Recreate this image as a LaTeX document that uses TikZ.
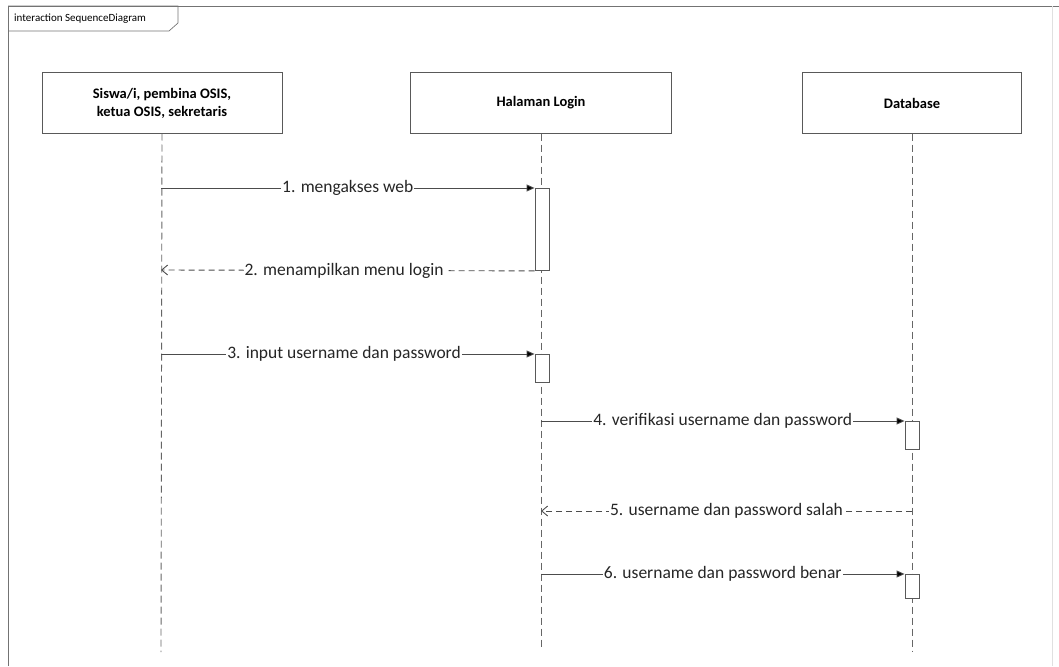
\documentclass[tikz,border=0pt]{standalone}
\usepackage{fontspec}
\setmainfont{Carlito}
\usetikzlibrary{arrows.meta}
\begin{document}
\begin{tikzpicture}[x=1pt,y=-1pt,
  frameline/.style={draw=black!55,line width=0.9pt},
  head/.style={draw=black!65,line width=1pt,fill=white,minimum height=60pt,align=center,font=\fontsize{14.5}{18}\selectfont\bfseries},
  lifeline/.style={draw=black!60,line width=0.9pt,dash pattern=on 7pt off 4pt},
  actbar/.style={draw=black!65,line width=0.9pt,fill=white,minimum width=14pt,inner sep=0pt,anchor=north},
  syncmsg/.style={draw=black!70,line width=0.9pt,-{Triangle[length=8pt,width=7pt,fill=black]}},
  retmsg/.style={draw=black!70,line width=0.9pt,dash pattern=on 6pt off 4pt,-{Straight Barb[length=6pt,width=10pt]}},
  msglabel/.style={fill=white,inner sep=1pt,font=\fontsize{17.5}{20}\selectfont,text=black!85}
]
\useasboundingbox (0,0) rectangle (1059,666);
% frame
\draw[frameline] (8,666) -- (8,6) -- (1059,6);
\draw[draw=black!12,line width=0.6pt] (1052,6) -- (1052,666);
\draw[frameline,line width=0.7pt] (8,6) -- (178,6) -- (178,23) -- (169,31) -- (8,31);
\node[anchor=west,inner sep=0pt,font=\fontsize{11}{13}\selectfont] (ftitle) at (14,19) {interaction SequenceDiagram};

% lifeline heads
\node[head,minimum width=240pt] (h1) at (162,103) {Siswa/i, pembina OSIS,\\ketua OSIS, sekretaris};
\node[head,minimum width=261pt] (h2) at (541,103) {Halaman Login};
\node[head,minimum width=219pt] (h3) at (912,103) {Database};

% lifeline ends
\coordinate (e1) at (161,652);
\coordinate (e2) at (541,648);
\coordinate (e3) at (912,652);
\draw[lifeline] (h1.south) -- (e1);
\draw[lifeline] (h2.south) -- (e2);
\draw[lifeline] (h3.south) -- (e3);

% activation bars
\node[actbar,minimum height=82pt] (a1) at (542,188) {};
\node[actbar,minimum height=28pt] (a2) at (542,354) {};
\node[actbar,minimum height=28pt] (a3) at (912,421) {};
\node[actbar,minimum height=24pt] (a4) at (912,574) {};

% message end points on lifelines
\coordinate (m1) at (161,188);
\coordinate (m2) at (161,270);
\coordinate (m3) at (161,354);
\coordinate (m4) at (541,421);
\coordinate (m5s) at (912,511);
\coordinate (m5e) at (541,511);
\coordinate (m6) at (541,574);

\draw[syncmsg] (m1) -- node[msglabel,pos=0.5] (l1) {1. mengakses web} (a1.north west);
\draw[retmsg] (a1.south west) -- node[msglabel,pos=0.51] (l2) {2. menampilkan menu login} (m2);
\draw[syncmsg] (m3) -- node[msglabel,pos=0.49] (l3) {3. input username dan password} (a2.north west);
\draw[syncmsg] (m4) -- node[msglabel] (l4) {4. verifikasi username dan password} (a3.north west);
\draw[retmsg] (m5s) -- node[msglabel,pos=0.5] (l5) {5. username dan password salah} (m5e);
\draw[syncmsg] (m6) -- node[msglabel] (l6) {6. username dan password benar} (a4.north west);
\end{tikzpicture}
\end{document}
